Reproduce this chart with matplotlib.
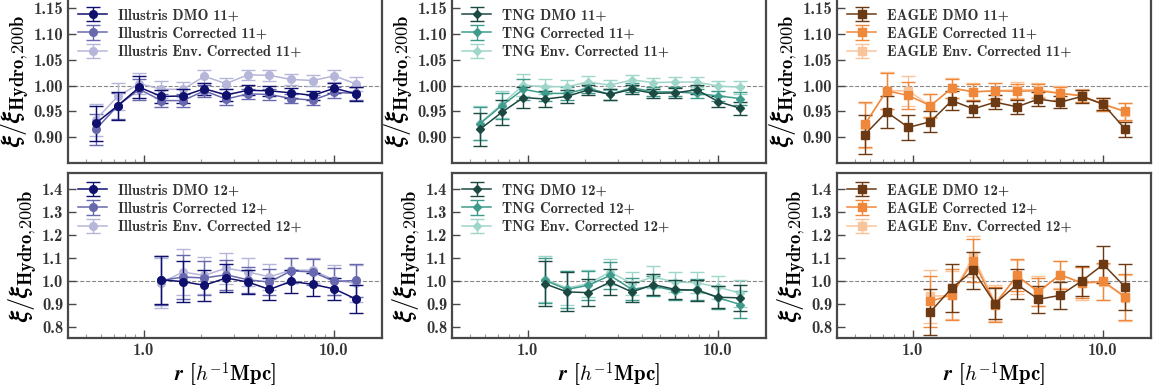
import numpy as np
import matplotlib
matplotlib.use("Agg")
import matplotlib.pyplot as plt
from matplotlib.ticker import FixedLocator, FormatStrFormatter, LogLocator, NullFormatter

plt.rcParams.update({
    'font.family': ['cmb10', 'DejaVu Serif'],
    'mathtext.fontset': 'cm',
    'axes.unicode_minus': False,
    'axes.formatter.use_mathtext': False,
})

# radial bins
r11 = [0.56, 0.73, 0.95, 1.24, 1.61, 2.09, 2.72, 3.54, 4.6, 5.98, 7.78, 10.1, 13.2]
r12 = [1.24, 1.61, 2.09, 2.72, 3.54, 4.6, 5.98, 7.78, 10.1, 13.2]

# ---- 11+ ----
ill_dmo_11 = [0.927, 0.961, 0.997, 0.979, 0.980, 0.994, 0.982, 0.991, 0.990, 0.986, 0.981, 0.995, 0.984]
ill_cor_11 = [0.915, 0.961, 0.993, 0.971, 0.971, 0.990, 0.974, 0.984, 0.983, 0.975, 0.972, 0.987, 0.985]
ill_env_11 = [0.934, 0.979, 1.004, 0.993, 0.993, 1.018, 1.004, 1.021, 1.020, 1.012, 1.010, 1.019, 1.003]
ill_dmo_11e = [0.034, 0.027, 0.021, 0.013, 0.013, 0.012, 0.011, 0.010, 0.010, 0.009, 0.009, 0.010, 0.013]
ill_cor_11e = [0.030, 0.025, 0.020, 0.013, 0.013, 0.012, 0.011, 0.010, 0.010, 0.009, 0.009, 0.010, 0.013]
ill_env_11e = [0.031, 0.026, 0.021, 0.017, 0.015, 0.013, 0.011, 0.010, 0.010, 0.010, 0.010, 0.011, 0.013]

tng_dmo_11 = [0.915, 0.948, 0.977, 0.974, 0.979, 0.992, 0.983, 0.993, 0.985, 0.986, 0.992, 0.969, 0.956]
tng_cor_11 = [0.926, 0.961, 0.993, 0.985, 0.985, 0.995, 0.983, 0.996, 0.988, 0.988, 0.985, 0.980, 0.975]
tng_env_11 = [0.927, 0.964, 1.001, 0.998, 0.998, 1.007, 1.001, 1.011, 1.006, 1.007, 1.007, 0.999, 0.997]
tng_dmo_11e = [0.032, 0.025, 0.021, 0.015, 0.013, 0.010, 0.010, 0.009, 0.009, 0.009, 0.009, 0.010, 0.013]
tng_cor_11e = [0.032, 0.025, 0.020, 0.015, 0.013, 0.010, 0.010, 0.009, 0.009, 0.009, 0.009, 0.010, 0.013]
tng_env_11e = [0.033, 0.026, 0.021, 0.015, 0.013, 0.011, 0.010, 0.010, 0.009, 0.009, 0.009, 0.010, 0.013]

eag_dmo_11 = [0.905, 0.949, 0.919, 0.930, 0.971, 0.955, 0.968, 0.959, 0.974, 0.968, 0.979, 0.964, 0.915]
eag_cor_11 = [0.925, 0.990, 0.981, 0.961, 0.995, 0.988, 0.990, 0.989, 0.990, 0.985, 0.980, 0.964, 0.950]
eag_env_11 = [0.923, 0.990, 0.990, 0.961, 0.996, 0.988, 0.990, 0.992, 0.992, 0.986, 0.981, 0.963, 0.949]
eag_dmo_11e = [0.038, 0.031, 0.024, 0.020, 0.018, 0.015, 0.014, 0.013, 0.013, 0.012, 0.012, 0.012, 0.015]
eag_cor_11e = [0.043, 0.035, 0.027, 0.022, 0.018, 0.016, 0.015, 0.015, 0.014, 0.013, 0.012, 0.013, 0.017]
eag_env_11e = [0.043, 0.036, 0.029, 0.023, 0.019, 0.017, 0.016, 0.015, 0.014, 0.013, 0.012, 0.013, 0.018]

# ---- 12+ ----
ill_dmo_12 = [1.004, 0.996, 0.980, 1.012, 0.994, 0.962, 0.997, 0.984, 0.964, 0.919]
ill_cor_12 = [1.001, 1.016, 1.012, 1.026, 1.004, 0.994, 1.043, 1.038, 0.997, 1.001]
ill_env_12 = [0.991, 1.038, 1.023, 1.055, 1.038, 1.017, 1.046, 1.046, 1.003, 0.988]
ill_dmo_12e = [0.105, 0.090, 0.068, 0.060, 0.052, 0.048, 0.050, 0.050, 0.050, 0.062]
ill_cor_12e = [0.105, 0.095, 0.075, 0.065, 0.058, 0.055, 0.055, 0.055, 0.060, 0.070]
ill_env_12e = [0.110, 0.100, 0.080, 0.068, 0.060, 0.058, 0.055, 0.055, 0.065, 0.080]

tng_dmo_12 = [0.986, 0.951, 0.948, 0.994, 0.951, 0.983, 0.962, 0.958, 0.928, 0.925]
tng_cor_12 = [1.001, 0.962, 0.980, 1.023, 0.962, 0.977, 0.956, 0.962, 0.925, 0.896]
tng_env_12 = [1.006, 0.968, 0.987, 1.038, 0.987, 1.016, 0.994, 0.991, 0.972, 0.945]
tng_dmo_12e = [0.098, 0.085, 0.058, 0.055, 0.045, 0.045, 0.042, 0.045, 0.048, 0.058]
tng_cor_12e = [0.100, 0.080, 0.062, 0.058, 0.048, 0.045, 0.042, 0.046, 0.050, 0.060]
tng_env_12e = [0.100, 0.075, 0.060, 0.058, 0.050, 0.048, 0.042, 0.046, 0.050, 0.058]

eag_dmo_12 = [0.864, 0.968, 1.045, 0.900, 0.984, 0.919, 0.936, 0.999, 1.071, 0.971]
eag_cor_12 = [0.910, 0.939, 1.088, 0.896, 1.023, 0.951, 1.026, 0.991, 0.997, 0.929]
eag_env_12 = [0.932, 0.936, 1.107, 0.904, 1.016, 0.954, 1.026, 0.988, 0.994, 0.925]
eag_dmo_12e = [0.100, 0.105, 0.080, 0.068, 0.065, 0.058, 0.058, 0.065, 0.080, 0.100]
eag_cor_12e = [0.110, 0.110, 0.095, 0.075, 0.070, 0.062, 0.060, 0.068, 0.080, 0.100]
eag_env_12e = [0.115, 0.105, 0.090, 0.078, 0.075, 0.065, 0.058, 0.070, 0.080, 0.100]

sims = ['Illustris', 'TNG', 'EAGLE']
markers = {'Illustris': 'o', 'TNG': 'D', 'EAGLE': 's'}
msizes = {'Illustris': 5.5, 'TNG': 4.0, 'EAGLE': 5.5}
colors = {
    'Illustris': ['#0f0f6e', '#6868ae', '#b6b6da'],
    'TNG': ['#1c4a42', '#3f9c8c', '#9fd6ca'],
    'EAGLE': ['#6b3a14', '#f0883c', '#fac49a'],
}
data = {
    ('Illustris', '11'): [(ill_dmo_11, ill_dmo_11e), (ill_cor_11, ill_cor_11e), (ill_env_11, ill_env_11e)],
    ('TNG', '11'): [(tng_dmo_11, tng_dmo_11e), (tng_cor_11, tng_cor_11e), (tng_env_11, tng_env_11e)],
    ('EAGLE', '11'): [(eag_dmo_11, eag_dmo_11e), (eag_cor_11, eag_cor_11e), (eag_env_11, eag_env_11e)],
    ('Illustris', '12'): [(ill_dmo_12, ill_dmo_12e), (ill_cor_12, ill_cor_12e), (ill_env_12, ill_env_12e)],
    ('TNG', '12'): [(tng_dmo_12, tng_dmo_12e), (tng_cor_12, tng_cor_12e), (tng_env_12, tng_env_12e)],
    ('EAGLE', '12'): [(eag_dmo_12, eag_dmo_12e), (eag_cor_12, eag_cor_12e), (eag_env_12, eag_env_12e)],
}
kinds = ['DMO', 'Corrected', 'Env. Corrected']

W, H = 1158, 392
fig = plt.figure(figsize=(W/100, H/100), dpi=100)
lefts = [68, 452, 837]
pw, ph = 314, 165
rows = {'11': 163, '12': 338}  # bottom pixel of each row

spine_c = '#484848'
for mass, ybot in rows.items():
    for j, sim in enumerate(sims):
        ax = fig.add_axes([lefts[j]/W, 1-ybot/H, pw/W, ph/H])
        xs = r11 if mass == '11' else r12
        for k, (vals, errs) in enumerate(data[(sim, mass)]):
            ax.errorbar(xs, vals, yerr=errs, color=colors[sim][k], marker=markers[sim],
                        ms=msizes[sim], lw=1.1, elinewidth=1.0, capsize=5, capthick=1.0,
                        label='%s %s %s+' % (sim, kinds[k], mass), zorder=3-k*0.1)
        ax.axhline(1.0, color='#888888', ls='--', lw=0.8, zorder=1)
        ax.set_xscale('log')
        ax.set_xlim(0.4, 18)
        ax.xaxis.set_major_locator(FixedLocator([1.0, 10.0]))
        ax.xaxis.set_major_formatter(FormatStrFormatter('%.1f'))
        ax.xaxis.set_minor_locator(LogLocator(base=10, subs=np.arange(2, 10)))
        ax.xaxis.set_minor_formatter(NullFormatter())
        if mass == '11':
            ax.set_ylim(0.85, 1.17)
            ax.set_yticks([0.90, 0.95, 1.00, 1.05, 1.10, 1.15])
            ax.yaxis.set_major_formatter(FormatStrFormatter('%.2f'))
            ax.set_xticklabels([])
        else:
            ax.set_ylim(0.75, 1.47)
            ax.set_yticks([0.8, 0.9, 1.0, 1.1, 1.2, 1.3, 1.4])
            ax.yaxis.set_major_formatter(FormatStrFormatter('%.1f'))
            ax.set_xlabel(r'$\boldsymbol{r}$ [$\boldsymbol{h^{-1}}$Mpc]', fontsize=15, labelpad=2)
        ax.set_ylabel(r'$\boldsymbol{\xi/\xi}_{\mathbf{Hydro{,}200b}}$', fontsize=19, labelpad=2)
        ax.tick_params(which='both', direction='in', colors=spine_c, labelcolor='#333333',
                       labelsize=12, top=False, right=False)
        ax.tick_params(which='major', length=6, width=1.0)
        ax.tick_params(which='minor', length=3, width=0.8, colors='#999999')
        for s in ax.spines.values():
            s.set_color(spine_c)
            s.set_linewidth(1.6)
        ax.legend(loc='upper left', frameon=False, fontsize=10.5, handlelength=2.0,
                  labelspacing=0.3, borderaxespad=0.3, handletextpad=0.7,
                  labelcolor='#333333')

fig.savefig('out.png', dpi=100)
